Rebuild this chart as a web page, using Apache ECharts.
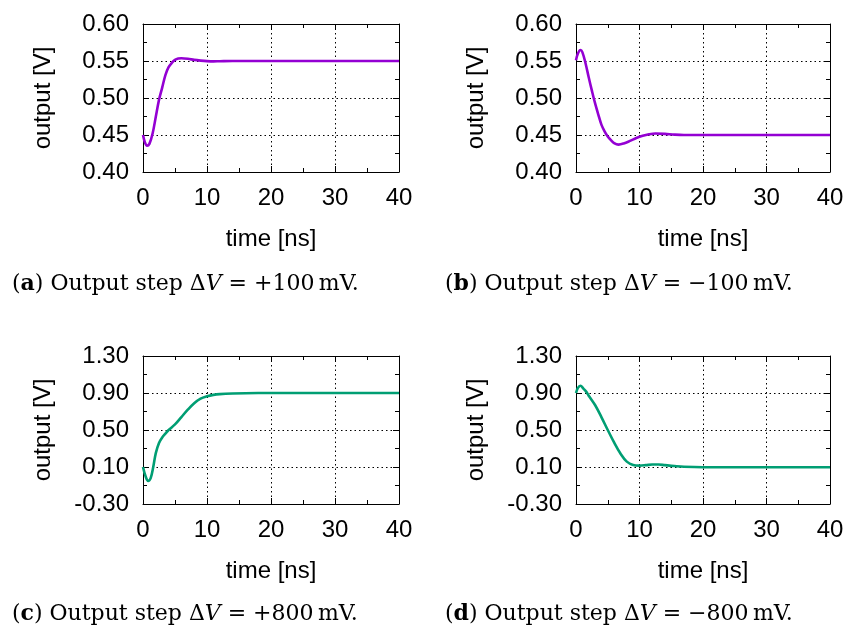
<!DOCTYPE html>
<html><head><meta charset="utf-8">
<script src="https://cdn.jsdelivr.net/npm/echarts@6/dist/echarts.min.js"></script>
<style>html,body{margin:0;padding:0;background:#fff}#c{width:848px;height:630px}</style>
</head><body><div id="c"></div>
<script>
// time [ns] and output [V] for each panel
const tA = [0, 0.3, 0.63, 1, 1.5, 2, 2.5, 3, 3.5, 4, 4.5, 5, 5.5, 6, 7, 8, 9, 10, 11, 12, 14, 17, 20, 30, 40];
const vA = [0.450, 0.440, 0.4355, 0.438, 0.452, 0.4746, 0.4975, 0.514, 0.531, 0.5416, 0.5474, 0.5515, 0.5533, 0.5537, 0.553, 0.5515, 0.5505, 0.5498, 0.5495, 0.5497, 0.550, 0.550, 0.550, 0.550, 0.550];
const tB = [0, 0.3, 0.7, 1, 1.5, 2, 2.5, 3, 3.5, 4, 4.5, 5, 5.5, 6, 6.7, 7.5, 8.5, 9.5, 10.5, 11.5, 12.5, 14, 15.5, 17, 20, 30, 40];
const vB = [0.551, 0.560, 0.5648, 0.562, 0.547, 0.528, 0.510, 0.493, 0.478, 0.464, 0.455, 0.448, 0.443, 0.439, 0.437, 0.4385, 0.442, 0.446, 0.449, 0.451, 0.452, 0.4515, 0.4505, 0.450, 0.450, 0.450, 0.450];
const tC = [0, 0.4, 0.8, 1.2, 1.6, 2, 2.5, 3, 3.5, 4, 5, 6, 7, 8, 9, 10, 11, 12, 14, 16, 20, 30, 40];
const vC = [0.10, 0.00, -0.05, -0.02, 0.10, 0.25, 0.36, 0.42, 0.46, 0.50, 0.56, 0.64, 0.72, 0.79, 0.84, 0.865, 0.88, 0.888, 0.895, 0.898, 0.90, 0.90, 0.90];
const tD = [0, 0.3, 0.7, 1.2, 1.6, 2, 3, 4, 5, 6, 7, 8, 9, 10, 11, 12, 13, 14, 15.5, 17, 20, 30, 40];
const vD = [0.90, 0.955, 0.978, 0.945, 0.915, 0.87, 0.77, 0.64, 0.50, 0.365, 0.245, 0.158, 0.122, 0.115, 0.12, 0.127, 0.127, 0.12, 0.11, 0.102, 0.097, 0.097, 0.097];
const captions = [
  ['a', '+100'], ['b', '\u2212100'], ['c', '+800'], ['d', '\u2212800']
];
const xTicks = [0, 40, 10];           // min, max, interval
const yTicksSmall = [0.40, 0.60, 0.05];
const yTicksLarge = [-0.30, 1.30, 0.40];

const purple = '#9400D3', green = '#009E73';
const panels = [
  {t: tA, v: vA, y: yTicksSmall, col: purple, left: 143, top: 24, width: 256},
  {t: tB, v: vB, y: yTicksSmall, col: purple, left: 576, top: 24, width: 254},
  {t: tC, v: vC, y: yTicksLarge, col: green, left: 143, top: 356, width: 256},
  {t: tD, v: vD, y: yTicksLarge, col: green, left: 576, top: 356, width: 254}
];
const sans = 'Liberation Sans, Arial, sans-serif';
const serif = 'DejaVu Serif, serif';
const grid = [], xAxis = [], yAxis = [], series = [], title = [];
panels.forEach((p, i) => {
  grid.push({left: p.left, top: p.top, width: p.width, height: 148, containLabel: false});
  const lineStyle = {color: '#000', width: 1};
  const split = {show: true, lineStyle: {color: '#000', type: [1.5, 3], width: 1}};
  const common = {
    axisLine: {show: true, onZero: false, lineStyle},
    axisTick: {show: true, inside: true, length: 6, lineStyle},
    minorTick: {show: true, splitNumber: 2, length: 4, lineStyle}
  };
  xAxis.push(Object.assign({type: 'value', gridIndex: i, min: xTicks[0], max: xTicks[1], interval: xTicks[2],
    position: 'bottom',
    axisLabel: {show: true, color: '#000', fontFamily: sans, fontSize: 24, margin: 14},
    splitLine: split,
    name: 'time [ns]', nameLocation: 'middle', nameGap: 55,
    nameTextStyle: {color: '#000', fontFamily: sans, fontSize: 24}}, common));
  xAxis.push(Object.assign({type: 'value', gridIndex: i, min: xTicks[0], max: xTicks[1], interval: xTicks[2],
    position: 'top', axisLabel: {show: false}, splitLine: {show: false}}, common));
  yAxis.push(Object.assign({type: 'value', gridIndex: i, min: p.y[0], max: p.y[1], interval: p.y[2],
    position: 'left',
    axisLabel: {show: true, color: '#000', fontFamily: sans, fontSize: 24, margin: 14,
      formatter: v => v.toFixed(2)},
    splitLine: split,
    name: 'output [V]', nameLocation: 'middle', nameGap: 88, nameRotate: 90,
    nameTextStyle: {color: '#000', fontFamily: sans, fontSize: 24}}, common));
  yAxis.push(Object.assign({type: 'value', gridIndex: i, min: p.y[0], max: p.y[1], interval: p.y[2],
    position: 'right', axisLabel: {show: false}, splitLine: {show: false}}, common));
  series.push({type: 'line', xAxisIndex: 2 * i, yAxisIndex: 2 * i, symbol: 'none', smooth: 0.35,
    data: p.t.map((t, k) => [t, p.v[k]]),
    lineStyle: {color: p.col, width: 2.6}, silent: true, animation: false});
  const c = captions[i];
  title.push({
    text: '({b|' + c[0] + '}) Output step \u0394{i|V} = ' + c[1] + '\u2009mV.',
    left: i % 2 === 0 ? 7 : 440, top: i < 2 ? 268 : 598,
    textStyle: {fontFamily: serif, fontSize: 22, fontWeight: 'normal', color: '#000',
      rich: {b: {fontFamily: serif, fontSize: 22, fontWeight: 'bold', color: '#000'},
             i: {fontFamily: serif, fontSize: 22, fontStyle: 'italic', color: '#000'}}}
  });
});
const chart = echarts.init(document.getElementById('c'), null, {renderer: 'canvas'});
chart.setOption({animation: false, backgroundColor: '#fff', title, grid, xAxis, yAxis, series});
</script></body></html>
